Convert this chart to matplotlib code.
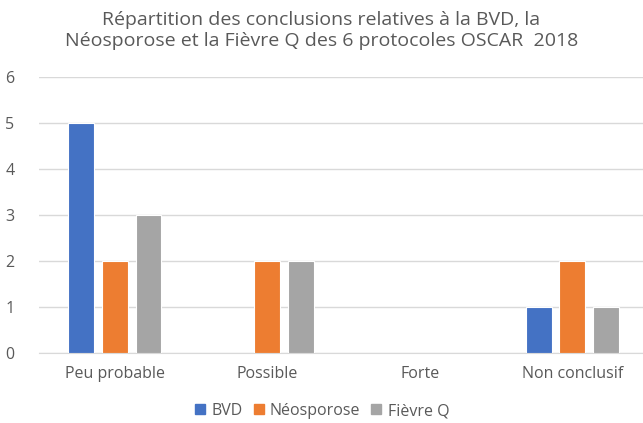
import matplotlib
matplotlib.use("Agg")
import matplotlib.pyplot as plt
import numpy as np

categories = ["Peu probable", "Possible", "Forte", "Non conclusif"]
series_names = ["BVD", "Néosporose", "Fièvre Q"]
bvd = [5, 0, 0, 1]
neosporose = [2, 2, 0, 2]
fievre_q = [3, 2, 0, 1]
colors = ["#4472C4", "#ED7D31", "#A5A5A5"]
title = "Répartition des conclusions relatives à la BVD, la\nNéosporose et la Fièvre Q des 6 protocoles OSCAR  2018"

plt.rcParams['font.family'] = ['Open Sans', 'DejaVu Sans']
txt = "#595959"

fig = plt.figure(figsize=(6.43, 4.23), dpi=100)
ax = fig.add_axes([38.7/643, 70/423, 610/643, 276/423])

x = np.arange(len(categories))
w = 0.17
step = 0.22
for i, (vals, name) in enumerate(zip([bvd, neosporose, fievre_q], series_names)):
    ax.bar(x + (i - 1) * step, vals, width=w, color=colors[i], label=name,
           edgecolor="white", linewidth=0.8, zorder=3)

ax.set_xlim(-0.5, 3.5)
ax.set_ylim(0, 6)
ax.set_yticks(range(0, 7))
ax.yaxis.grid(True, color="#D9D9D9", linewidth=1, zorder=0)
for s in ["top", "right", "left"]:
    ax.spines[s].set_visible(False)
ax.spines["bottom"].set_color("#D9D9D9")
ax.set_xticks(x)
ax.set_xticklabels(categories)
ax.tick_params(axis="both", length=0, colors=txt, labelsize=11.5)
ax.tick_params(axis="x", pad=9)
ax.tick_params(axis="y", pad=24)
for lbl in ax.get_yticklabels():
    lbl.set_horizontalalignment("left")

fig.text(0.5, 1 - 11/423, title, ha="center", va="top", fontsize=14, color=txt, linespacing=1.25)

handles = [plt.Line2D([], [], marker="s", linestyle="", markersize=7.5, color=c) for c in colors]
fig.legend(handles, series_names, loc="center", bbox_to_anchor=(0.5, 12/423), ncol=3,
           frameon=False, fontsize=11.5, labelcolor=txt, handletextpad=0.3,
           columnspacing=0.6, handlelength=0.8)

fig.savefig("out.png", dpi=100)
